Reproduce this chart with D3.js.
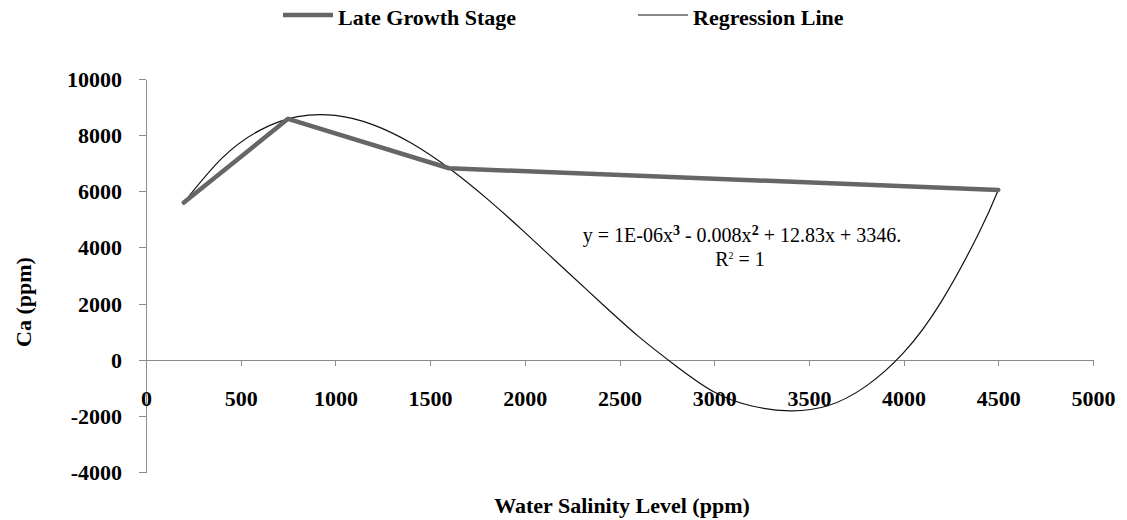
<!DOCTYPE html>
<html lang="en">
<head>
  <meta charset="UTF-8">
  <title>Ca vs Water Salinity</title>
  <script src="https://d3js.org/d3.v7.min.js"></script>
  <style>
    body { margin: 0; background: #ffffff; overflow: hidden; }
    text { font-family: "Liberation Serif", "Times New Roman", serif; fill: #000; }
    .bold { font-weight: bold; font-size: 22px; }
    .axis path, .axis line { stroke: #8c8c8c; stroke-width: 1px; shape-rendering: crispEdges; }
  </style>
</head>
<body>
  <svg id="chart" width="1127" height="520"></svg>
  <script>
    // late growth stage measurements
    const salinity = [200, 750, 1600, 4500];
    const calcium = [5600, 8580, 6820, 6050];

    // regression curve
    const regX = [200, 400, 600, 800, 1000, 1200, 1400, 1600, 1800, 2000, 2200, 2400,
                  2600, 2800, 3000, 3200, 3400, 3600, 3800, 4000, 4200, 4400, 4500];
    const regY = [5600, 7172, 8170, 8658, 8702, 8367, 7718, 6820, 5738, 4537, 3283, 2040,
                  830, -230, -1150, -1650, -1820, -1640, -950, 250, 2080, 4550, 6050];

    const xTicks = [0, 500, 1000, 1500, 2000, 2500, 3000, 3500, 4000, 4500, 5000];
    const yTicks = [-4000, -2000, 0, 2000, 4000, 6000, 8000, 10000];

    const svg = d3.select("#chart");
    const x = d3.scaleLinear().domain([0, 5000]).range([146, 1093]);
    const y = d3.scaleLinear().domain([-4000, 10000]).range([472, 79]);
    const plain = d => String(d);

    // y axis on the left
    const yAxis = svg.append("g").attr("class", "axis")
      .attr("transform", "translate(146,0)")
      .call(d3.axisLeft(y).tickValues(yTicks).tickSize(7).tickSizeOuter(0).tickFormat(plain));
    yAxis.selectAll("text")
      .attr("class", "bold")
      .attr("x", -24)
      .attr("dy", "0.34em");

    // x axis sits on y = 0, labels pushed down below the plot
    const xAxis = svg.append("g").attr("class", "axis")
      .attr("transform", `translate(0,${y(0)})`)
      .call(d3.axisBottom(x).tickValues(xTicks).tickSize(6).tickSizeOuter(0).tickFormat(plain));
    xAxis.selectAll("text")
      .attr("class", "bold")
      .attr("y", 39)
      .attr("dy", "0.34em");
    xAxis.selectAll(".tick").filter(d => d === 0).select("line").remove();

    // regression curve
    const reg = regX.map((v, i) => [v, regY[i]]);
    svg.append("path")
      .datum(reg)
      .attr("fill", "none")
      .attr("stroke", "#111")
      .attr("stroke-width", 1.2)
      .attr("d", d3.line().x(d => x(d[0])).y(d => y(d[1])).curve(d3.curveNatural));

    // measured series
    const pts = salinity.map((v, i) => [v, calcium[i]]);
    svg.append("path")
      .datum(pts)
      .attr("fill", "none")
      .attr("stroke", "#666666")
      .attr("stroke-width", 4.5)
      .attr("stroke-linejoin", "round")
      .attr("stroke-linecap", "round")
      .attr("d", d3.line().x(d => x(d[0])).y(d => y(d[1])));

    // trendline equation
    const eq = svg.append("text")
      .attr("x", 742).attr("y", 242)
      .attr("text-anchor", "middle")
      .style("font-size", "20px");
    eq.append("tspan").text("y = 1E-06x");
    eq.append("tspan").attr("dy", -7).style("font-size", "14px").style("font-weight", "bold").text("3");
    eq.append("tspan").attr("dy", 7).text(" - 0.008x");
    eq.append("tspan").attr("dy", -7).style("font-size", "14px").style("font-weight", "bold").text("2");
    eq.append("tspan").attr("dy", 7).text(" + 12.83x + 3346.");

    const r2 = svg.append("text")
      .attr("x", 740).attr("y", 266)
      .attr("text-anchor", "middle")
      .style("font-size", "20px");
    r2.append("tspan").text("R");
    r2.append("tspan").attr("dy", -7).style("font-size", "10px").text("2");
    r2.append("tspan").attr("dy", 7).text(" = 1");

    // axis titles
    svg.append("text").attr("class", "bold")
      .attr("x", 622).attr("y", 513)
      .attr("text-anchor", "middle")
      .text("Water Salinity Level (ppm)");

    svg.append("text").attr("class", "bold")
      .attr("transform", "translate(31,302) rotate(-90)")
      .attr("text-anchor", "middle")
      .text("Ca (ppm)");

    // legend
    const legend = [
      { name: "Late Growth Stage", x: 283, color: "#666666", width: 4.5 },
      { name: "Regression Line", x: 638, color: "#111", width: 1.2 }
    ];
    const lg = svg.selectAll("g.legend").data(legend).enter().append("g")
      .attr("class", "legend")
      .attr("transform", d => `translate(${d.x},15)`);
    lg.append("line")
      .attr("x1", 0).attr("x2", 50)
      .attr("stroke", d => d.color)
      .attr("stroke-width", d => d.width);
    lg.append("text").attr("class", "bold")
      .attr("x", 55).attr("y", 10)
      .text(d => d.name);
  </script>
</body>
</html>
